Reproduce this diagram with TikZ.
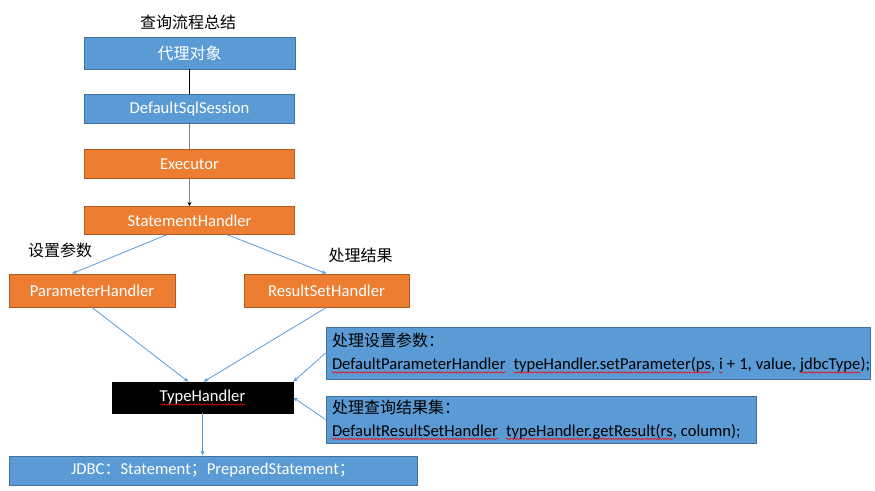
\documentclass[tikz,border=0pt]{standalone}
\usepackage{fontspec}
\setmainfont{Carlito}[Scale=1.04]
\newfontfamily\cjk{Noto Sans CJK SC}
\usetikzlibrary{positioning,arrows.meta,decorations.pathmorphing}

\definecolor{boxblue}{HTML}{5B9BD5}
\definecolor{boxblueline}{HTML}{41719C}
\definecolor{boxorange}{HTML}{ED7D31}
\definecolor{boxorangeline}{HTML}{AE5A21}
\pgfdeclareverticalshading{typeshade}{100bp}{color(0bp)=(black); color(72bp)=(black); color(100bp)=(black!50)}
% red wavy underline, takes no room of its own
\newsavebox\spellbox
\newcommand\spell[1]{\sbox\spellbox{#1}\leavevmode\rlap{\tikz[overlay,baseline=0pt]
  \draw[red,line width=0.5pt,decorate,decoration={snake,amplitude=0.7pt,segment length=2.6pt}]
    (0pt,-2.6pt) -- (\wd\spellbox,-2.6pt);}\usebox\spellbox}
% one line of code text, narrow word spaces
\newcommand\codeline[1]{\mbox{\spaceskip=4pt\relax #1}}

\begin{document}
\begin{tikzpicture}[x=1pt,y=-1pt,font=\fontsize{16}{19}\selectfont,
    blue box/.style={draw=boxblueline,fill=boxblue,text=white,inner sep=0pt,line width=0.8pt},
    orange box/.style={draw=boxorangeline,fill=boxorange,text=white,inner sep=0pt,line width=0.8pt},
    note box/.style={draw=boxblueline,fill=boxblue,text=black,align=left,inner xsep=6pt,inner ysep=0pt,
      line width=0.8pt,font=\fontsize{16}{23}\selectfont},
    link/.style={draw=boxblue,line width=0.8pt,-{Stealth[length=5pt,width=4pt]}}]
  \useasboundingbox (0,0) rectangle (875,490);

  \node (title) at (188,22) {\cjk 查询流程总结};
  \node [blue box,minimum width=211pt,minimum height=32pt] (proxy) at (189.5,53) {\cjk 代理对象};
  \node [blue box,minimum width=210pt,minimum height=29pt,below=25pt of proxy] (session) {DefaultSqlSession};
  \node [orange box,minimum width=210pt,minimum height=28.5pt,below=25pt of session] (executor) {Executor};
  \node [orange box,minimum width=210pt,minimum height=28pt,below=27.5pt of executor] (stmt) {StatementHandler};

  \node [orange box,minimum width=166pt,minimum height=33pt] (param) at (92,290.5) {ParameterHandler};
  \node [orange box,minimum width=165pt,minimum height=33pt] (result) at (326.5,290.5) {ResultSetHandler};
  \node (setlabel) at (60,250) {\cjk 设置参数};
  \node (resultlabel) at (360.5,255) {\cjk 处理结果};

  \node [draw=black,shading=typeshade,text=white,inner sep=0pt,minimum width=181pt,minimum height=31pt]
    (type) at (202.5,397.5) {\spell{TypeHandler}};
  \node [blue box,minimum width=408pt,minimum height=29pt] (jdbc) at (213,470.5)
    {JDBC{\cjk ：}Statement{\cjk ；}PreparedStatement{\cjk ；}};

  \node [note box,text width=532pt,minimum height=52pt] (note1) at (598,353)
    {{\cjk 处理设置参数：}\\
     \codeline{\spell{DefaultParameterHandler}\ \ \spell{typeHandler.setParameter(ps}, \spell{i} + 1, value, \spell{jdbcType});}};
  \node [note box,text width=418pt,minimum height=47pt] (note2) at (541,419.5)
    {{\cjk 处理查询结果集：}\\
     \codeline{\spell{DefaultResultSetHandler}\ \ \spell{typeHandler.getResult(rs}, column);}};

  \draw [line width=0.8pt] (proxy) -- (session);
  \draw [gray,line width=1pt] (session) -- (executor);
  \draw [gray,line width=1pt,-{Stealth[black,length=4pt,width=4pt]}] (executor) -- (stmt);
  \draw [link] ([xshift=-23pt]stmt.south) -- ([xshift=-20pt]param.north);
  \draw [link] ([xshift=38pt]stmt.south) -- (result.north);
  \draw [link] (param.south) -- ([xshift=-14pt]type.north);
  \draw [link] (result.south) -- ([xshift=1pt]type.north);
  \draw [link] (note1.west) -- (type.north east);
  \draw [link] (note2.west) -- (type.east);
  \draw [link] (type.south) -- (type.south |- jdbc.north);
\end{tikzpicture}
\end{document}
